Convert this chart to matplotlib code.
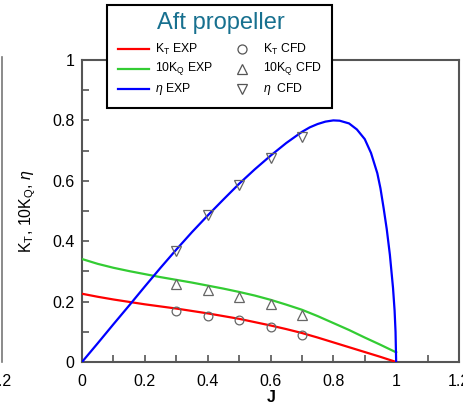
import numpy as np
import matplotlib
matplotlib.use("Agg")
import matplotlib.pyplot as plt
from matplotlib.lines import Line2D
from matplotlib.patches import Rectangle

j_kt = [0.0, 0.05, 0.1, 0.15, 0.2, 0.25, 0.3, 0.35, 0.4, 0.45, 0.5, 0.55,
        0.6, 0.65, 0.7, 0.75, 0.8, 0.85, 0.9, 0.95, 1.0]
kt_exp = [0.226, 0.216, 0.207, 0.199, 0.191, 0.184, 0.177, 0.169, 0.161, 0.152, 0.143, 0.132,
          0.121, 0.109, 0.096, 0.081, 0.065, 0.049, 0.033, 0.017, 0.0]

j_kq = [0.0, 0.05, 0.1, 0.15, 0.2, 0.25, 0.3, 0.35, 0.4, 0.45, 0.5, 0.55,
        0.6, 0.65, 0.7, 0.75, 0.8, 0.85, 0.9, 0.95, 1.0]
kq10_exp = [0.341, 0.325, 0.312, 0.301, 0.291, 0.281, 0.272, 0.263, 0.253, 0.243, 0.232, 0.220,
            0.206, 0.190, 0.173, 0.152, 0.129, 0.106, 0.081, 0.057, 0.032]

j_eta = [0.0, 0.05, 0.1, 0.15, 0.2, 0.25, 0.3, 0.35, 0.4, 0.45, 0.5, 0.55, 0.6, 0.65,
         0.7, 0.725, 0.75, 0.775, 0.8, 0.82, 0.85, 0.875, 0.9, 0.92, 0.94, 0.95, 0.96,
         0.97, 0.98, 0.99, 0.995, 0.998, 1.0]
eta_exp = [0.0, 0.062, 0.125, 0.187, 0.25, 0.312, 0.372, 0.43, 0.485, 0.538, 0.59, 0.638,
           0.683, 0.725, 0.762, 0.777, 0.788, 0.796, 0.800, 0.799, 0.790, 0.770, 0.738,
           0.692, 0.625, 0.575, 0.51, 0.44, 0.355, 0.245, 0.17, 0.1, 0.0]

# CFD points
j_cfd = [0.3, 0.4, 0.5, 0.6, 0.7]
kt_cfd = [0.170, 0.153, 0.139, 0.115, 0.090]
kq10_cfd = [0.258, 0.238, 0.216, 0.191, 0.156]
eta_cfd = [0.366, 0.486, 0.587, 0.675, 0.746]

x_ticks = [0, 0.2, 0.4, 0.6, 0.8, 1.0, 1.2]
y_ticks = [0, 0.2, 0.4, 0.6, 0.8, 1.0]

plt.rcParams.update({
    "font.family": "Liberation Sans",
    "mathtext.fontset": "custom",
    "mathtext.rm": "Liberation Sans",
    "mathtext.it": "Liberation Sans:italic",
    "mathtext.bf": "Liberation Sans:bold",
})

W, H = 463, 408
fig = plt.figure(figsize=(W / 100, H / 100), dpi=100)
ax = fig.add_axes([82 / W, 1 - 362 / H, (459 - 82) / W, (362 - 60) / H])

lw = 1.6
ax.plot(j_kt, kt_exp, color="#ff0000", lw=lw, zorder=3)
ax.plot(j_kq, kq10_exp, color="#33cc33", lw=lw, zorder=3)
ax.plot(j_eta, eta_exp, color="#0000ff", lw=lw, zorder=3)

mk = dict(ls="none", mfc="none", mec="#666666", mew=0.9, zorder=4)
ax.plot(j_cfd, kt_cfd, marker="o", ms=6.3, **mk)
ax.plot(j_cfd, kq10_cfd, marker="^", ms=7, **mk)
ax.plot(j_cfd, eta_cfd, marker="v", ms=7, **mk)

ax.set_xlim(0, 1.2)
ax.set_ylim(0, 1.0)
ax.set_xticks(x_ticks)
ax.set_xticklabels([f"{v:g}" for v in x_ticks])
ax.set_yticks(y_ticks)
ax.set_yticklabels([f"{v:g}" for v in y_ticks])
ax.set_xticks(np.arange(0, 1.21, 0.1), minor=True)
ax.set_yticks(np.arange(0, 1.01, 0.1), minor=True)
ax.tick_params(which="both", direction="in", length=5, width=1.2, color="#555555",
               top=False, right=False)
ax.tick_params(axis="x", which="major", pad=8.5, labelsize=11.5)
ax.tick_params(axis="y", which="major", pad=5.5, labelsize=11.5)

for s in ax.spines.values():
    s.set_color("#555555")
    s.set_linewidth(1.5)

ax.set_xlabel("J", fontsize=11.5, fontweight="bold")
ax.xaxis.set_label_coords(0.501, -0.093)
ax.set_ylabel(r"K$_\mathrm{T}$, 10K$_\mathrm{Q}$, $\mathit{\eta}$", fontsize=11.5)
ax.yaxis.set_label_coords(-0.118, 0.5)

# remnant of neighbouring panel on the left
fig.add_artist(Line2D([1.5 / W, 1.5 / W], [1 - 57 / H, 1 - 362 / H],
                      color="#777777", lw=1.2, transform=fig.transFigure))
fig.text(1 / W, 1 - 381 / H, "1.2", ha="center", va="center", fontsize=11.5)

# legend box drawn by hand
def fx(px):
    return px / W


def fy(py):
    return 1 - py / H


fig.add_artist(Rectangle((fx(107), fy(108)), fx(332) - fx(107), fy(5) - fy(108),
                         transform=fig.transFigure, facecolor="white",
                         edgecolor="black", lw=1.5, zorder=10))
fig.text(fx(221), fy(23), "Aft propeller", ha="center", va="center",
         fontsize=17, color="#17708f", zorder=11)

rows = [49, 69, 89]
line_labels = [r"K$_\mathrm{T}$ EXP", r"10K$_\mathrm{Q}$ EXP", r"$\mathit{\eta}$ EXP"]
line_colors = ["#ff0000", "#33cc33", "#0000ff"]
cfd_labels = [r"K$_\mathrm{T}$ CFD", r"10K$_\mathrm{Q}$ CFD", r"$\mathit{\eta}$  CFD"]
cfd_markers = ["o", "^", "v"]
for r, lab, col, clab, m in zip(rows, line_labels, line_colors, cfd_labels, cfd_markers):
    fig.add_artist(Line2D([fx(118), fx(149)], [fy(r), fy(r)], color=col, lw=lw,
                          transform=fig.transFigure, zorder=11))
    fig.text(fx(155), fy(r), lab, ha="left", va="center", fontsize=8.8, zorder=11)
    fig.add_artist(Line2D([fx(242)], [fy(r)], marker=m, ms=6.5 if m == "o" else 7,
                          mfc="none", mec="#555555", mew=0.9, ls="none",
                          transform=fig.transFigure, zorder=11))
    fig.text(fx(263), fy(r), clab, ha="left", va="center", fontsize=8.8, zorder=11)

fig.savefig("out.png", dpi=100)
